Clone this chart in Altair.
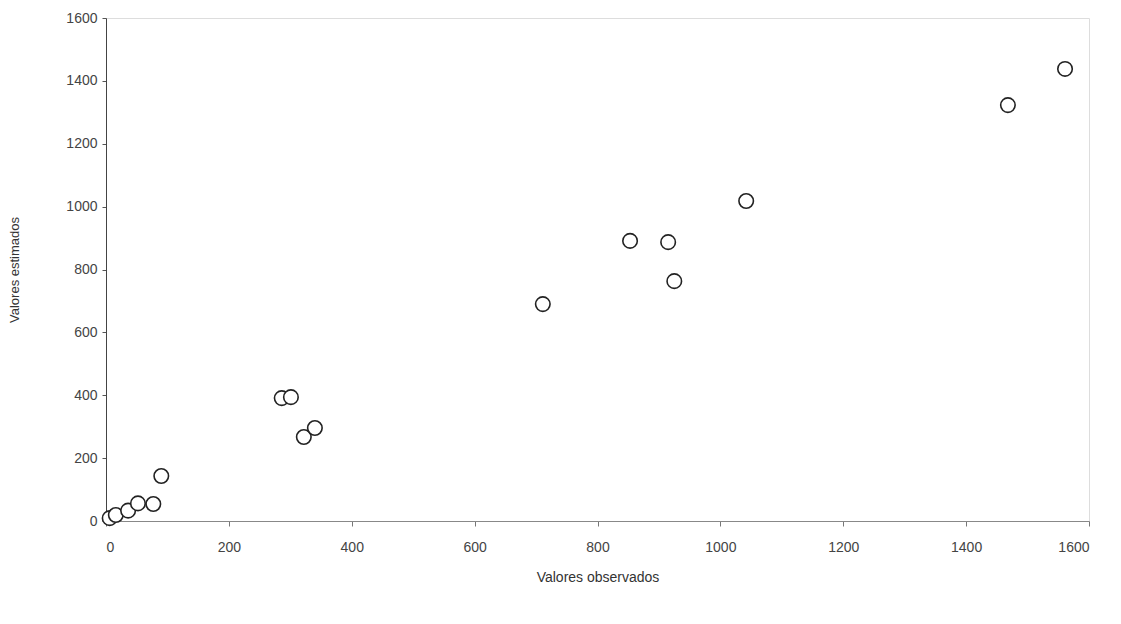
import altair as alt
import pandas as pd

observados = [6, 16, 36, 52, 77, 90, 286, 301, 322, 340, 711, 853, 915, 925, 1042, 1468, 1561]
estimados = [9, 19, 33, 56, 54, 143, 391, 394, 267, 296, 690, 891, 887, 763, 1018, 1323, 1438]
ticks = [0, 200, 400, 600, 800, 1000, 1200, 1400, 1600]

df = pd.DataFrame({"obs": observados, "est": estimados})

font = "Liberation Sans Narrow, Liberation Sans, Arial, sans-serif"

chart = alt.Chart(df).mark_point(
    shape="circle", size=210, filled=False, stroke="#222222", strokeWidth=1.6, fill="white", fillOpacity=1
).encode(
    x=alt.X("obs:Q", scale=alt.Scale(domain=[0, 1600], nice=False, zero=True),
            axis=alt.Axis(values=ticks, format="d", title="Valores observados", grid=False,
                          labelFont=font, labelFontSize=14, labelColor="#444444",
                          labelPadding=14, tickSize=5, tickColor="#777777",
                          domainColor="#888888", titleFont="Liberation Sans, Arial, sans-serif",
                          titleFontSize=14, titleFontWeight="normal", titleColor="#333333",
                          titlePadding=16)),
    y=alt.Y("est:Q", scale=alt.Scale(domain=[0, 1600], nice=False, zero=True),
            axis=alt.Axis(values=ticks, format="d", title="Valores estimados", grid=False,
                          labelFont=font, labelFontSize=14, labelColor="#444444",
                          labelPadding=5, tickSize=4, tickColor="#555555",
                          domainColor="#444444", titleFont="Liberation Sans, Arial, sans-serif",
                          titleFontSize=13, titleFontWeight="normal", titleColor="#333333",
                          titlePadding=44)),
).properties(
    width=983, height=503,
    autosize=alt.AutoSizeParams(type="none"),
    padding={"left": 106, "top": 18, "right": 32, "bottom": 103},
).configure_view(
    stroke="#999999", strokeWidth=1
).configure(background="white")

chart.save("out.html", embed_options={"renderer": "svg", "actions": False})
